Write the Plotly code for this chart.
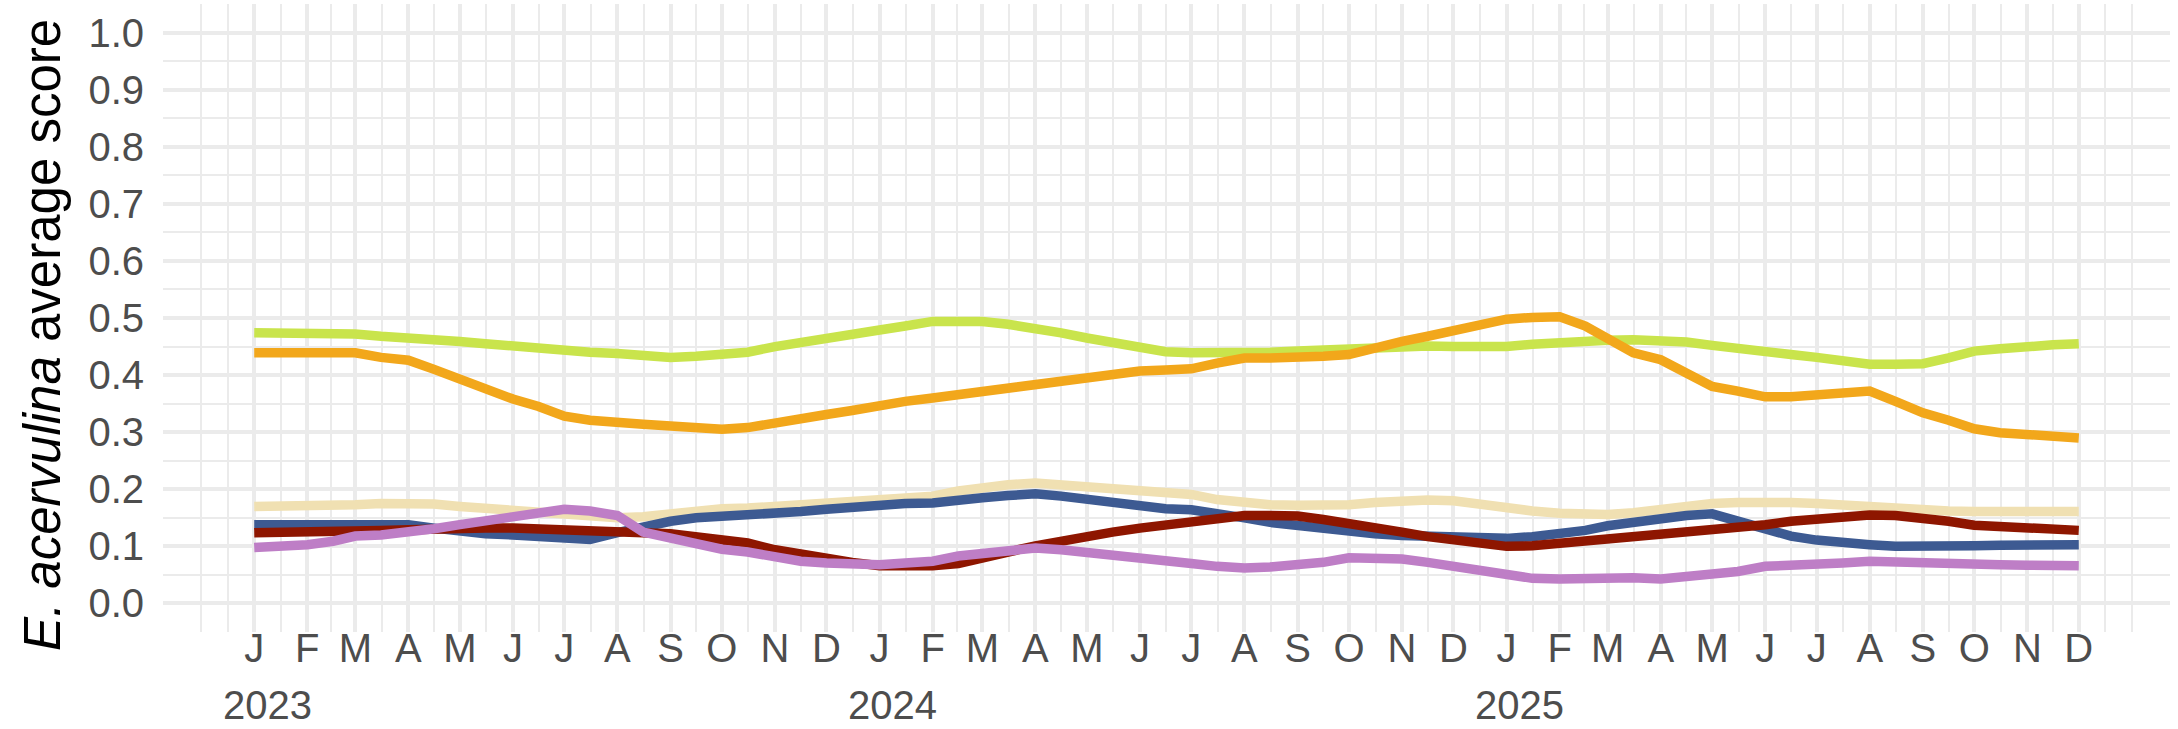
import pandas as pd
import plotly.graph_objects as go

# ---- data (semi-monthly readings, 1st and 16th of each month) ----
month_starts = pd.date_range("2023-01-01", "2025-12-01", freq="MS")
dates = []
for m in month_starts:
    dates.append(m)
    if m != month_starts[-1]:
        dates.append(m + pd.Timedelta(days=15))

green = [0.474, 0.474, 0.473, 0.473, 0.472, 0.468, 0.466, 0.462, 0.459, 0.455, 0.450, 0.447, 0.442, 0.440, 0.438, 0.435, 0.431, 0.433, 0.436,
         0.440, 0.450, 0.458, 0.464, 0.471, 0.479, 0.486, 0.494, 0.494, 0.494, 0.489, 0.483, 0.474, 0.465, 0.457, 0.448, 0.441,
         0.439, 0.438, 0.439, 0.440, 0.442, 0.444, 0.446, 0.450, 0.451, 0.451, 0.450, 0.449, 0.450, 0.454, 0.458, 0.459, 0.461, 0.462,
         0.462, 0.458, 0.452, 0.448, 0.440, 0.436, 0.431, 0.424, 0.419, 0.419, 0.420, 0.430, 0.442, 0.446, 0.451, 0.453, 0.455]
orange = [0.439, 0.439, 0.439, 0.440, 0.439, 0.431, 0.426, 0.410, 0.392, 0.377, 0.358, 0.345, 0.328, 0.321, 0.316, 0.314, 0.311, 0.307, 0.305,
          0.308, 0.317, 0.325, 0.331, 0.338, 0.347, 0.354, 0.360, 0.366, 0.373, 0.379, 0.383, 0.392, 0.398, 0.403, 0.407, 0.409,
          0.411, 0.421, 0.430, 0.430, 0.430, 0.433, 0.436, 0.448, 0.459, 0.468, 0.477, 0.489, 0.498, 0.501, 0.502, 0.486, 0.465, 0.439,
          0.427, 0.404, 0.380, 0.372, 0.362, 0.362, 0.366, 0.368, 0.372, 0.354, 0.334, 0.321, 0.306, 0.299, 0.295, 0.293, 0.290]
beige = [0.170, 0.170, 0.170, 0.172, 0.173, 0.175, 0.176, 0.174, 0.170, 0.167, 0.165, 0.161, 0.158, 0.153, 0.150, 0.152, 0.157, 0.162, 0.166,
         0.167, 0.170, 0.172, 0.175, 0.177, 0.180, 0.183, 0.188, 0.197, 0.204, 0.208, 0.211, 0.208, 0.205, 0.201, 0.197, 0.194,
         0.191, 0.182, 0.176, 0.173, 0.172, 0.172, 0.173, 0.177, 0.180, 0.181, 0.180, 0.173, 0.167, 0.162, 0.158, 0.156, 0.156, 0.159,
         0.165, 0.170, 0.175, 0.177, 0.179, 0.177, 0.175, 0.172, 0.169, 0.167, 0.165, 0.162, 0.161, 0.161, 0.161, 0.161, 0.161]
blue = [0.138, 0.138, 0.138, 0.138, 0.138, 0.138, 0.138, 0.132, 0.125, 0.122, 0.120, 0.118, 0.112, 0.112, 0.124, 0.134, 0.144, 0.150, 0.152,
        0.154, 0.157, 0.161, 0.165, 0.169, 0.173, 0.175, 0.176, 0.179, 0.185, 0.189, 0.192, 0.188, 0.182, 0.176, 0.169, 0.166,
        0.164, 0.159, 0.150, 0.142, 0.136, 0.131, 0.127, 0.122, 0.119, 0.117, 0.115, 0.114, 0.114, 0.117, 0.121, 0.128, 0.136, 0.143,
        0.150, 0.154, 0.157, 0.144, 0.128, 0.118, 0.111, 0.106, 0.103, 0.100, 0.099, 0.099, 0.101, 0.102, 0.103, 0.103, 0.103]
red = [0.124, 0.124, 0.124, 0.125, 0.127, 0.128, 0.129, 0.131, 0.132, 0.132, 0.132, 0.131, 0.131, 0.129, 0.127, 0.124, 0.122, 0.118, 0.114,
       0.106, 0.094, 0.086, 0.078, 0.072, 0.066, 0.065, 0.066, 0.070, 0.078, 0.090, 0.101, 0.110, 0.117, 0.125, 0.132, 0.138,
       0.141, 0.148, 0.154, 0.154, 0.153, 0.147, 0.141, 0.134, 0.125, 0.117, 0.111, 0.105, 0.100, 0.101, 0.105, 0.109, 0.113, 0.118,
       0.121, 0.125, 0.131, 0.135, 0.138, 0.144, 0.148, 0.152, 0.155, 0.154, 0.150, 0.144, 0.137, 0.134, 0.131, 0.129, 0.128]
purple = [0.098, 0.100, 0.103, 0.109, 0.118, 0.120, 0.124, 0.131, 0.138, 0.144, 0.151, 0.158, 0.165, 0.162, 0.154, 0.125, 0.114, 0.103, 0.095,
          0.090, 0.080, 0.074, 0.071, 0.068, 0.068, 0.071, 0.074, 0.083, 0.088, 0.093, 0.097, 0.094, 0.090, 0.084, 0.078, 0.074,
          0.070, 0.065, 0.062, 0.064, 0.066, 0.072, 0.080, 0.080, 0.078, 0.072, 0.065, 0.056, 0.047, 0.044, 0.043, 0.045, 0.047, 0.045,
          0.043, 0.047, 0.051, 0.056, 0.065, 0.066, 0.066, 0.071, 0.074, 0.072, 0.071, 0.070, 0.068, 0.068, 0.067, 0.066, 0.066]

month_letters = ["J", "F", "M", "A", "M", "J", "J", "A", "S", "O", "N", "D"]
years = [2023, 2024, 2025]
y_ticks = [round(0.1 * i, 1) for i in range(11)]

series = [
    ("green", green, "#C9E44C"),
    ("orange", orange, "#F2A71B"),
    ("beige", beige, "#F0E0B2"),
    ("blue", blue, "#3D5A92"),
    ("red", red, "#8E1600"),
    ("purple", purple, "#BE7EC6"),
]

fig = go.Figure()
for name, vals, col in series:
    fig.add_trace(go.Scatter(x=dates, y=vals, mode="lines", name=name,
                             line=dict(color=col, width=9.5), showlegend=False))

# x ticks: month initials; years written underneath each January
tick_vals = list(month_starts)
tick_text = [month_letters[m.month - 1] for m in month_starts]

ext = [month_starts[0] - pd.DateOffset(months=1)] + list(month_starts) + [month_starts[-1] + pd.DateOffset(months=1)]
minor_x = [ext[0]]
for a, b in zip(ext[:-1], ext[1:]):
    minor_x.append(a + (b - a) / 2)
minor_x.append(ext[-1])

span = month_starts[-1] - month_starts[0]
x_range = [month_starts[0] - span * 0.05, month_starts[-1] + span * 0.05]

FONT = "Liberation Sans, Arial, sans-serif"
grid = "#EBEBEB"
tick_font = dict(family=FONT, size=40, color="#4D4D4D")

annotations = []
for yr in years:
    annotations.append(dict(
        x=pd.Timestamp(f"{yr}-01-01"), xref="x", y=0, yref="paper",
        text=str(yr), showarrow=False, xanchor="center", yanchor="middle",
        xshift=13, yshift=-73, borderpad=0, font=tick_font,
    ))
annotations.append(dict(
    x=0, xref="paper", y=0.5, yref="paper",
    text="<i>E. acervulina</i> average score", textangle=-90, showarrow=False,
    xanchor="center", yanchor="middle", xshift=-121, yshift=-17,
    font=dict(family=FONT, size=51, color="black"),
))

fig.update_layout(
    width=2178, height=729,
    margin=dict(l=163, r=8, t=4, b=97, autoexpand=False),
    plot_bgcolor="white", paper_bgcolor="white",
    annotations=annotations,
    xaxis=dict(
        range=x_range, tickmode="array", tickvals=tick_vals, ticktext=tick_text,
        tickangle=0, automargin=False,
        showgrid=True, gridcolor=grid, gridwidth=3.5, zeroline=False, showline=False,
        ticks="", tickfont=tick_font, ticklabelstandoff=-11,
        minor=dict(tickmode="array", tickvals=minor_x, showgrid=True, gridcolor=grid, gridwidth=1.8),
    ),
    yaxis=dict(
        range=[-0.05, 1.05], tickmode="array", tickvals=y_ticks,
        ticktext=[f"{v:.1f}" for v in y_ticks], automargin=False,
        showgrid=True, gridcolor=grid, gridwidth=3.5, zeroline=False, showline=False,
        ticks="", tickfont=tick_font, ticklabelstandoff=18,
        minor=dict(dtick=0.1, tick0=0.05, showgrid=True, gridcolor=grid, gridwidth=1.8),
    ),
)

fig.write_html("out.html",
               config={"displayModeBar": False},
               post_script="document.body.style.margin='0px';document.body.style.overflow='hidden';")
